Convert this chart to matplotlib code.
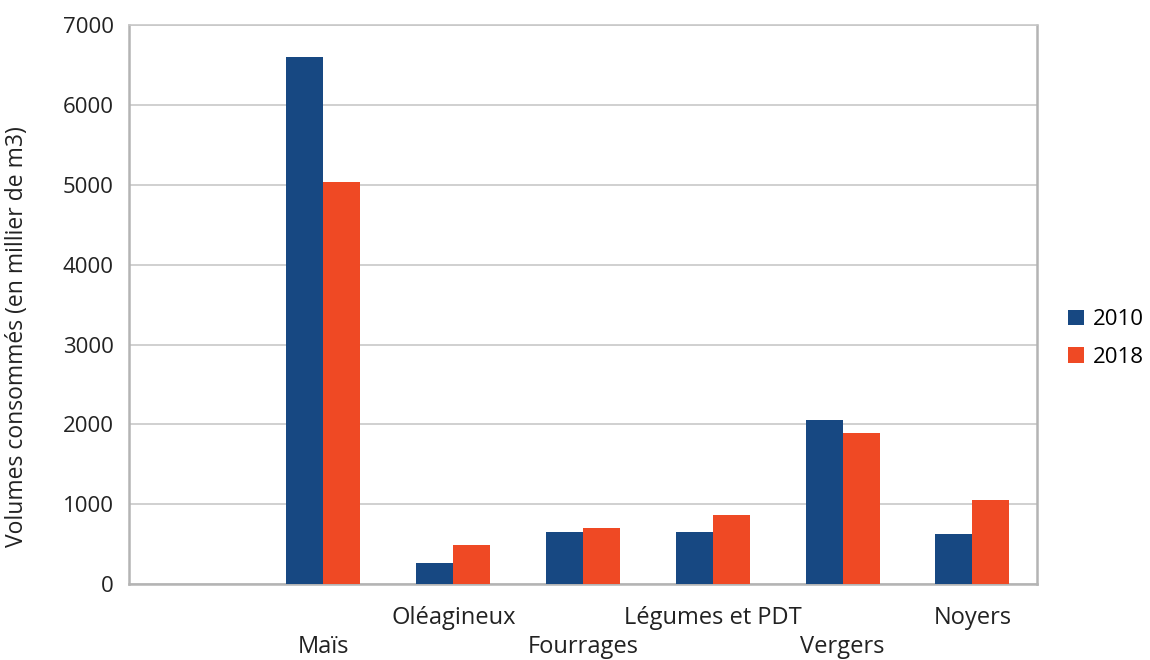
import matplotlib.pyplot as plt
import numpy as np

# data (first category is empty in the original)
categories = ["", "Maïs", "Oléagineux", "Fourrages", "Légumes et PDT", "Vergers", "Noyers"]
vol_2010 = [0, 6600, 270, 650, 650, 2050, 625]
vol_2018 = [0, 5040, 490, 700, 860, 1890, 1050]
series_names = ["2010", "2018"]
y_ticks = [0, 1000, 2000, 3000, 4000, 5000, 6000, 7000]

plt.rcParams['font.family'] = ['Open Sans', 'DejaVu Sans']

colors = ['#174882', '#EF4924']
grid_col = '#c8c8c8'
spine_col = '#b4b4b4'
txt_col = '#222222'

fig = plt.figure(figsize=(11.5, 6.6), dpi=100)
ax = fig.add_axes([0.112, 0.115, 0.79, 0.847])

x = np.arange(len(categories))
w = 0.285
ax.bar(x - w/2, vol_2010, width=w, color=colors[0], label=series_names[0], zorder=3)
ax.bar(x + w/2, vol_2018, width=w, color=colors[1], label=series_names[1], zorder=3)

ax.set_xlim(-0.5, len(categories) - 0.5)
ax.set_ylim(0, 7000)
ax.set_yticks(y_ticks)
ax.tick_params(axis='y', length=0, pad=11, labelsize=16, labelcolor=txt_col)
ax.grid(axis='y', color=grid_col, linewidth=1.2, zorder=0)
ax.set_axisbelow(True)

# staggered category labels: even on the upper row, odd on the lower row
ax.set_xticks(x[0::2])
ax.set_xticklabels(categories[0::2])
ax.set_xticks(x[1::2], minor=True)
ax.set_xticklabels(categories[1::2], minor=True)
ax.tick_params(axis='x', which='major', length=0, pad=16, labelsize=17, labelcolor=txt_col)
ax.tick_params(axis='x', which='minor', length=0, pad=37, labelsize=17, labelcolor=txt_col)

for side in ['left', 'bottom', 'right']:
    ax.spines[side].set_color(spine_col)
    ax.spines[side].set_linewidth(1.8)
ax.spines['top'].set_color(grid_col)
ax.spines['top'].set_linewidth(1.2)

ax.set_ylabel('Volumes consommés (en millier de m3)', fontsize=16.5, color=txt_col)
ax.yaxis.set_label_coords(-0.11, 0.442)

fig.legend(loc='center left', bbox_to_anchor=(0.929, 0.487), frameon=False,
           fontsize=16, handlelength=0.7, handleheight=0.7, handletextpad=0.4,
           labelspacing=0.75, borderaxespad=0, borderpad=0)

plt.savefig('out.png', dpi=100)
